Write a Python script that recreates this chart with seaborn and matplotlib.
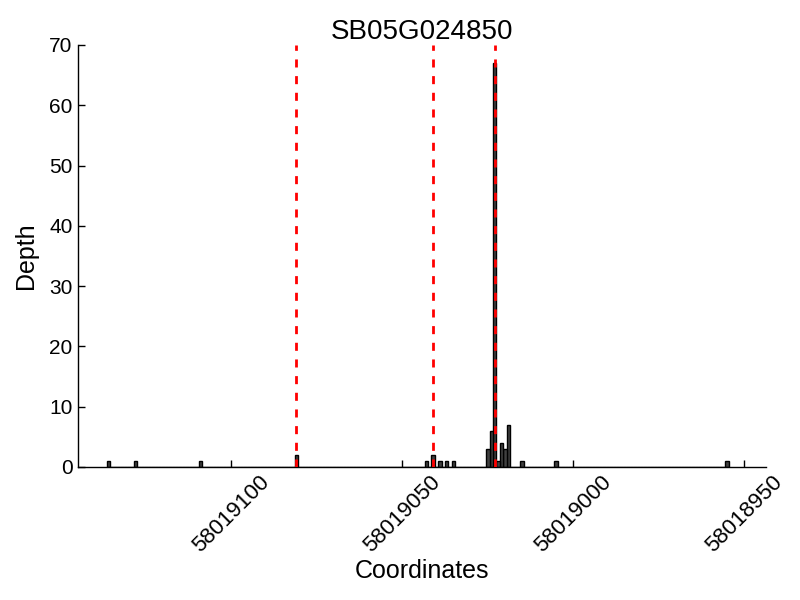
import matplotlib
matplotlib.use("Agg")
import matplotlib.pyplot as plt
import seaborn as sns
import pandas as pd

title = "SB05G024850"
coords = [58019136, 58019128, 58019109, 58019081, 58019043, 58019041, 58019039,
          58019037, 58019035, 58019025, 58019024, 58019023, 58019022, 58019021,
          58019020, 58019019, 58019015, 58019005, 58018955]
depth = [1, 1, 1, 2, 1, 2, 1, 1, 1, 3, 6, 67, 1, 4, 3, 7, 1, 1, 1]
features = [58019081, 58019041, 58019023]
xticks = [58019100, 58019050, 58019000, 58018950]
xtick_labels = ["58019100", "58019050", "58019000", "58018950"]
yticks = [0, 10, 20, 30, 40, 50, 60, 70]
xlim = (58019145, 58018943.5)
ylim = (0, 70)

sns.set_style("white")
plt.rcParams['font.family'] = ['Liberation Sans', 'DejaVu Sans']
plt.rcParams['text.color'] = 'black'
plt.rcParams['axes.labelcolor'] = 'black'
plt.rcParams['xtick.color'] = 'black'
plt.rcParams['ytick.color'] = 'black'

df = pd.DataFrame({"Coordinates": coords, "Depth": depth})

fig = plt.figure(figsize=(8, 6), dpi=100)
ax = fig.add_axes([0.097, 0.222, 0.861, 0.703])

sns.histplot(data=df, x="Coordinates", weights="Depth", discrete=True,
             color="#404040", edgecolor="black", linewidth=1, alpha=1,
             ax=ax, zorder=2)

for f in features:
    ax.axvline(f, color="red", linestyle=(0, (2.9, 3.1)), linewidth=2, zorder=3)

ax.set_xlim(*xlim)
ax.set_ylim(*ylim)
ax.set_xticks(xticks)
ax.set_xticklabels(xtick_labels, rotation=45, fontsize=16)
ax.set_yticks(yticks)
ax.set_yticklabels([str(v) for v in yticks], fontsize=15)
ax.tick_params(direction="in", length=5, width=1, bottom=True, left=True,
               top=False, right=False, colors="black")

for s in ["top", "right"]:
    ax.spines[s].set_visible(False)
for s in ["left", "bottom"]:
    ax.spines[s].set_color("black")
    ax.spines[s].set_linewidth(1)

ax.set_xlabel("Coordinates", fontsize=18, labelpad=2)
ax.set_ylabel("Depth", fontsize=18, labelpad=8)
ax.set_title(title, fontsize=20, pad=4)
ax.grid(False)

fig.savefig("out.png", dpi=100)
